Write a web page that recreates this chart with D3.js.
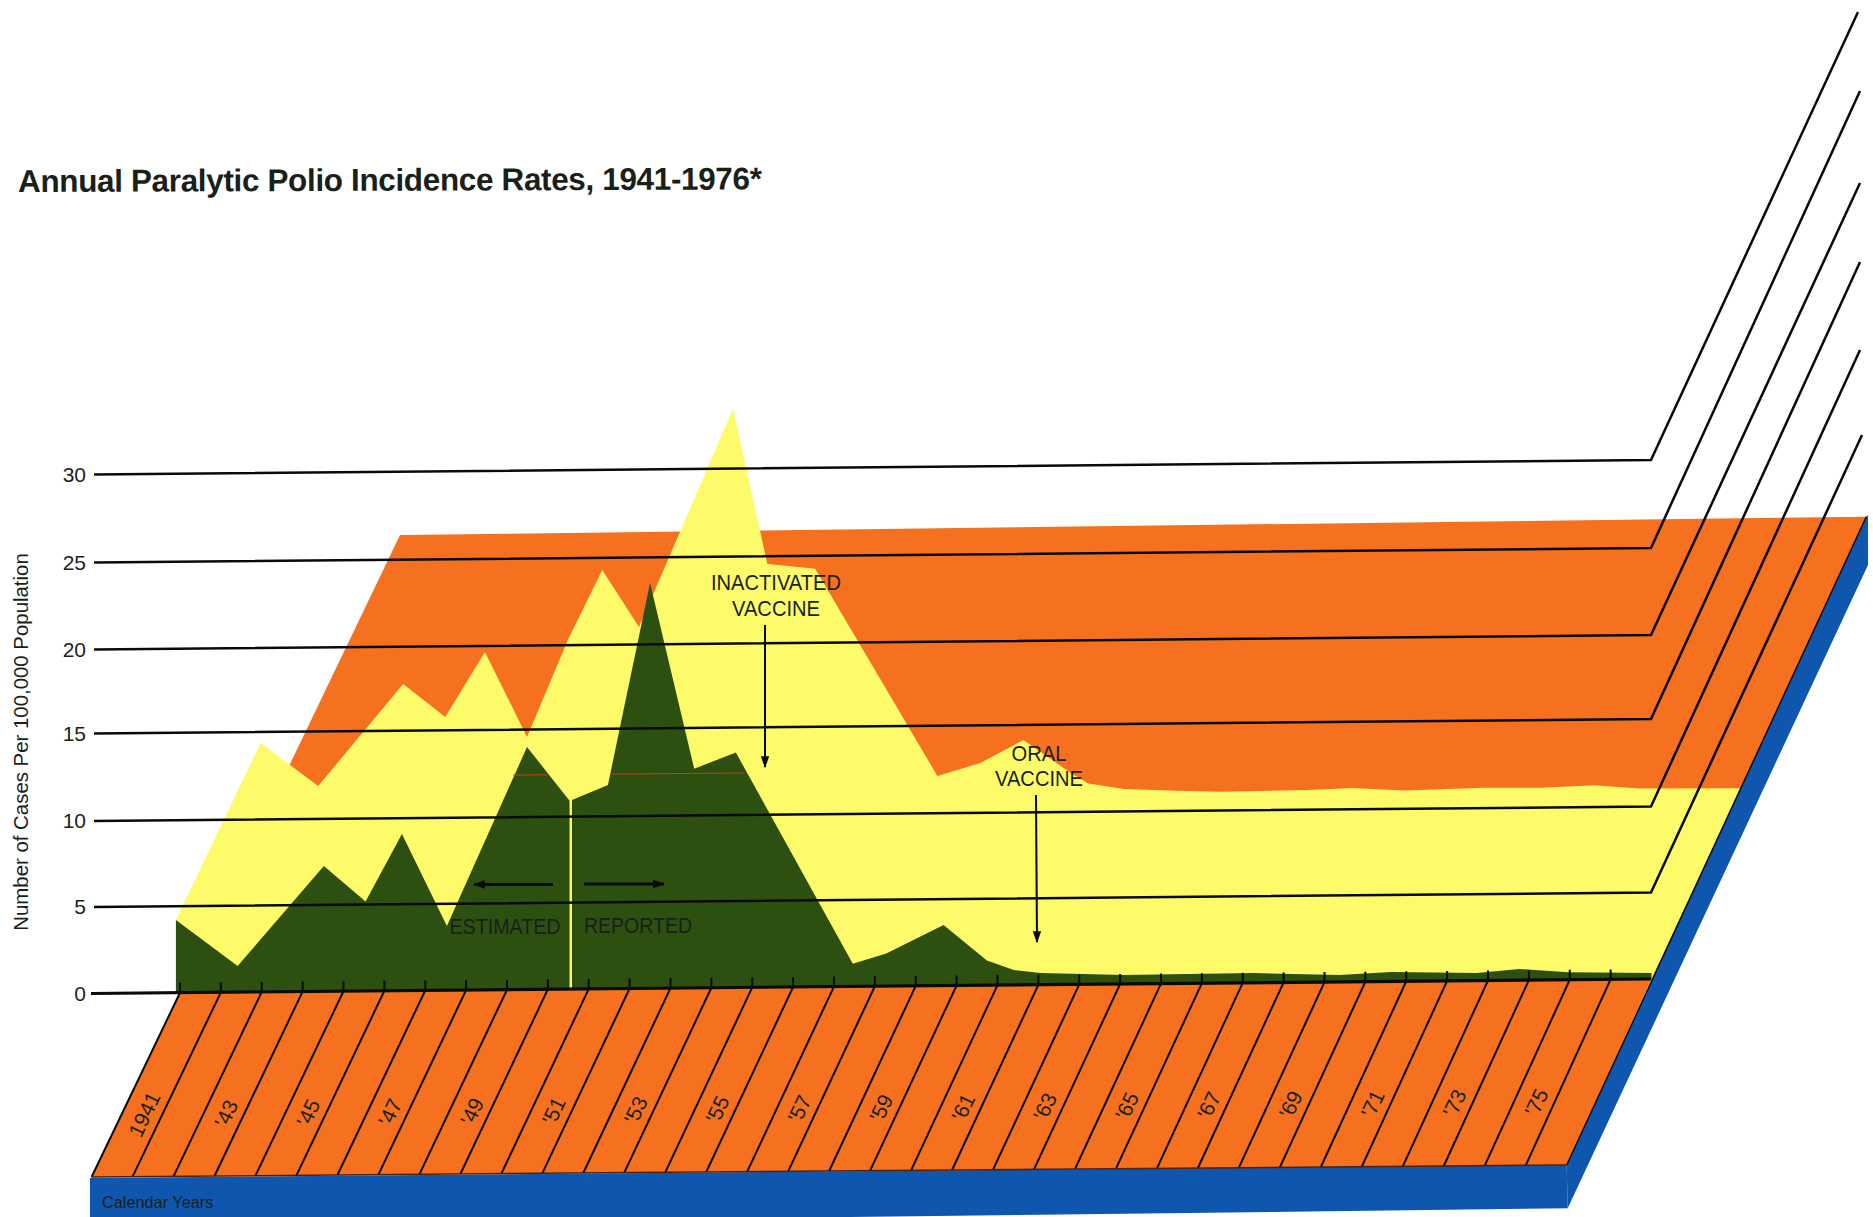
<!DOCTYPE html>
<html>
<head>
<meta charset="utf-8">
<title>Annual Paralytic Polio Incidence Rates</title>
<script src="https://cdn.jsdelivr.net/npm/d3@7"></script>
<style>
    html, body { margin: 0; padding: 0; background: #fff; }
    svg { display: block; }
    text { font-family: "Liberation Sans", Arial, sans-serif; fill: #1a1f1a; }
</style>
</head>
<body>
<div id="chart"></div>
<script>
// rates per 100,000. years are fractional because the
// printed peaks don't sit exactly on the calendar ticks
var estimatedYears = [1940.4, 1941.91, 1944.02, 1945.04, 1945.93, 1947.03, 1948.99, 1950.03];
var estimatedRates = [4.2, 1.51, 7.26, 5.17, 9.08, 3.71, 14.0, 10.9];

var reportedYears = [1950.09, 1950.97, 1952.0, 1953.08, 1954.1, 1956.96, 1957.78, 1959.18, 1960.24, 1960.9,
    1961.55, 1963.6, 1966.78, 1968.86, 1970.14, 1972.22, 1973.27, 1974.46, 1976.5];
var reportedRates = [10.94, 11.79, 23.52, 12.67, 13.57, 1.31, 1.88, 3.5, 1.42, 0.86,
    0.68, 0.51, 0.56, 0.4, 0.54, 0.44, 0.65, 0.43, 0.35];

// yellow sheet, it runs past 1976 because it lies on the slanted back plane
var backYears = [1940.4, 1942.47, 1943.88, 1945.96, 1946.99, 1947.96, 1948.99, 1950.0, 1950.83, 1951.73, 1954.03, 1954.87,
    1956.04, 1959.03, 1960.08, 1961.13, 1962.33, 1962.72, 1963.6, 1964.87, 1966.0, 1968.08, 1969.18, 1970.46,
    1972.39, 1973.81, 1975.1, 1976.2, 1978.68];
var backRates = [4.2, 14.37, 11.88, 17.77, 15.79, 19.64, 14.57, 20.35, 24.3, 21.0, 33.4, 24.55,
    24.26, 12.12, 12.84, 14.13, 12.17, 11.61, 11.28, 11.15, 11.07, 11.13, 11.22, 11.05,
    11.16, 11.13, 11.25, 11.04, 10.99];

var yTicks = [0, 5, 10, 15, 20, 25, 30];
var yearTicks = d3.range(1941, 1977);
var yearLabels = ["1941", "'43", "'45", "'47", "'49", "'51", "'53", "'55", "'57", "'59",
    "'61", "'63", "'65", "'67", "'69", "'71", "'73", "'75"];
var labelYears = d3.range(1941, 1977, 2);

var colors = {orange: "#f5711f", yellow: "#fdfb6a", green: "#2d4f0f", blue: "#0f56ae", ink: "#0a0a0a"};

var width = 1873, height = 1217;

var svg = d3.select("#chart").append("svg")
    .attr("width", width)
    .attr("height", height);

// the printed grid isn't quite even so the scale is piecewise
var y = d3.scaleLinear().domain(yTicks).range([993.5, 907, 821, 733.5, 649.5, 562.5, 474.5]);
// year -> x along the zero line (mid band = the year itself)
var x = d3.scaleLinear().domain([1940.5, 1976.5]).range([180, 1651.5]);
// same thing along the front edge of the floor
var xFront = d3.scaleLinear().domain([1940.5, 1976.5]).range([91.6, 1566.7]);
var yFront = d3.scaleLinear().domain([1940.5, 1976.5]).range([1177, 1165]);

// whole chart tilts up slightly towards the right
function lift(px) { return 0.00931 * (px - 94); }
function yAt(year, rate) { return y(rate) - lift(x(year)); }

var line = d3.line();

function polygon(pts, fill) {
    return svg.append("path").attr("d", line(pts) + "Z").attr("fill", fill);
}

// side and front of the base
polygon([[1866.3, 516.7], [1868, 515], [1868, 565], [1567.7, 1208.3], [1566.7, 1165]], colors.blue);
polygon([[90, 1178], [1566.7, 1165], [1567.7, 1208.3], [850, 1217], [90, 1217]], colors.blue);

// back wall
polygon([[180, 993], [400, 535], [1866.3, 516.7], [1652, 979.5]], colors.orange);

// floor
polygon([[x(1940.5), yAt(1940.5, 0)], [x(1976.5), yAt(1976.5, 0)], [xFront(1976.5), yFront(1976.5)], [xFront(1940.5), yFront(1940.5)]], colors.orange);

var area = d3.area()
    .x(function(d) { return x(d.year); })
    .y0(function(d) { return yAt(d.year, 0); })
    .y1(function(d) { return yAt(d.year, d.rate); });

function zipSeries(years, rates) {
    return years.map(function(yr, i) { return {year: yr, rate: rates[i]}; });
}

// yellow: closed by hand since the last vertex leans off the axis
var backPts = zipSeries(backYears, backRates).map(function(d) { return [x(d.year), yAt(d.year, d.rate)]; });
backPts.push([x(1976.5), yAt(1976.5, 0)]);
backPts.push([x(1940.4), yAt(1940.4, 0)]);
polygon(backPts, colors.yellow);

// edge between wall and blue side
svg.append("line")
    .attr("x1", 1866.3).attr("y1", 516.7)
    .attr("x2", 1566.7).attr("y2", 1165)
    .attr("stroke", colors.ink)
    .attr("stroke-width", 1.5);

// the two dark areas, estimated and reported. the sliver of yellow left
// between them is the divider
svg.selectAll(".rate-area")
    .data([zipSeries(estimatedYears, estimatedRates), zipSeries(reportedYears, reportedRates)])
    .enter().append("path")
    .attr("class", "rate-area")
    .attr("fill", colors.green)
    .attr("d", area);

// thin red seam where the back wall shows through the print
svg.selectAll(".seam")
    .data([[1948.65, 1949.5], [1951.05, 1954.3]])
    .enter().append("line")
    .attr("class", "seam")
    .attr("x1", function(d) { return x(d[0]); })
    .attr("x2", function(d) { return x(d[1]); })
    .attr("y1", function(d) { return yAt(d[0], 12.4); })
    .attr("y2", function(d) { return yAt(d[1], 12.4); })
    .attr("stroke", "#c8401c")
    .attr("stroke-width", 1);

// floor year lines, each with a short upright tick above the zero line
var floor = svg.append("g").attr("class", "floor");

floor.selectAll("path")
    .data(yearTicks)
    .enter().append("path")
    .attr("fill", "none")
    .attr("stroke", colors.ink)
    .attr("stroke-width", 2)
    .attr("d", function(d) {
        var yr = d - 0.5;
        return line([[x(yr), yAt(yr, 0) - 10], [x(yr), yAt(yr, 0)], [xFront(yr), yFront(yr)]]);
    });

svg.append("line")
    .attr("x1", xFront(1940.5)).attr("y1", yFront(1940.5))
    .attr("x2", xFront(1976.5)).attr("y2", yFront(1976.5))
    .attr("stroke", "#4a2210")
    .attr("stroke-width", 1.5);

// year labels, sitting in their band part way down the floor
var depth = 0.645;
floor.selectAll("text")
    .data(labelYears)
    .enter().append("text")
    .attr("transform", function(d) {
        var px = x(d) + (xFront(d) - x(d)) * depth + 1,
            py = yAt(d, 0) + (yFront(d) - yAt(d, 0)) * depth + 3;
        return "translate(" + px + "," + py + ") rotate(-64.5)";
    })
    .attr("text-anchor", "middle")
    .attr("dy", "0.35em")
    .attr("font-size", 21)
    .text(function(d, i) { return yearLabels[i]; });

// grid lines run across and then off up the back plane
var gridEnds = {5: [1862, 435], 10: [1860, 350], 15: [1860, 262], 20: [1860, 183], 25: [1860, 91], 30: [1858, 12]};
var grid = svg.append("g").attr("class", "grid");

grid.selectAll("path")
    .data(yTicks.slice(1))
    .enter().append("path")
    .attr("fill", "none")
    .attr("stroke", colors.ink)
    .attr("stroke-width", 2.5)
    .attr("d", function(d) {
        return line([[94, y(d)], [1651, y(d) - lift(1651)], gridEnds[d]]);
    });

// zero line is heavier
grid.append("line")
    .attr("x1", 91).attr("y1", y(0))
    .attr("x2", 1651).attr("y2", y(0) - lift(1651))
    .attr("stroke", colors.ink)
    .attr("stroke-width", 3.2);

var yAxis = d3.axisLeft(y).tickValues(yTicks).tickSize(0).tickPadding(0).tickFormat(d3.format("d"));

svg.append("g")
    .attr("class", "y axis")
    .attr("transform", "translate(86,0)")
    .call(yAxis)
    .call(function(g) { g.select(".domain").remove(); })
    .selectAll("text")
    .attr("font-size", 21)
    .attr("font-family", "Liberation Sans")
    .attr("fill", "#1a1f1a");

svg.append("text")
    .attr("transform", "translate(28,742) rotate(-90)")
    .attr("text-anchor", "middle")
    .attr("font-size", 20.4)
    .text("Number of Cases Per 100,000 Population");

svg.append("text")
    .attr("x", 18)
    .attr("y", 192)
    .attr("font-size", 31.5)
    .attr("font-weight", "bold")
    .attr("letter-spacing", -0.36)
    .attr("transform", "rotate(-0.2 18 192)")
    .attr("fill", "#13252b")
    .text("Annual Paralytic Polio Incidence Rates, 1941-1976*");

svg.append("text")
    .attr("x", 102).attr("y", 1208)
    .attr("font-size", 16.3)
    .attr("fill", "#0a2a66")
    .text("Calendar Years");

// annotations, the print uses a squeezed type so the widths are forced
var notes = [
    {text: "INACTIVATED", x: 776, y: 590, w: 130},
    {text: "VACCINE", x: 776, y: 616, w: 88},
    {text: "ORAL", x: 1039, y: 761, w: 55},
    {text: "VACCINE", x: 1039, y: 786, w: 88},
    {text: "ESTIMATED", x: 505, y: 934, w: 111},
    {text: "REPORTED", x: 638, y: 933, w: 108}
];

svg.append("g").selectAll("text")
    .data(notes)
    .enter().append("text")
    .attr("x", function(d) { return d.x; })
    .attr("y", function(d) { return d.y; })
    .attr("text-anchor", "middle")
    .attr("font-size", 22)
    .attr("textLength", function(d) { return d.w; })
    .attr("lengthAdjust", "spacingAndGlyphs")
    .text(function(d) { return d.text; });

var defs = svg.append("defs");
defs.append("marker")
    .attr("id", "head")
    .attr("viewBox", "0 0 10 10")
    .attr("refX", 9).attr("refY", 5)
    .attr("markerUnits", "userSpaceOnUse")
    .attr("markerWidth", 12).attr("markerHeight", 12)
    .attr("orient", "auto")
    .append("path")
    .attr("d", "M0,1.5L10,5L0,8.5Z")
    .attr("fill", colors.ink);

var arrows = [
    [765, 625, 765, 767, 2],
    [1036, 795, 1037, 942, 2],
    [553, 884.5, 474, 884.5, 3],
    [584, 884, 664, 884, 3]
];

svg.append("g").selectAll("line")
    .data(arrows)
    .enter().append("line")
    .attr("x1", function(d) { return d[0]; })
    .attr("y1", function(d) { return d[1]; })
    .attr("x2", function(d) { return d[2]; })
    .attr("y2", function(d) { return d[3]; })
    .attr("stroke", colors.ink)
    .attr("stroke-width", function(d) { return d[4]; })
    .attr("marker-end", "url(#head)");
</script>
</body>
</html>
